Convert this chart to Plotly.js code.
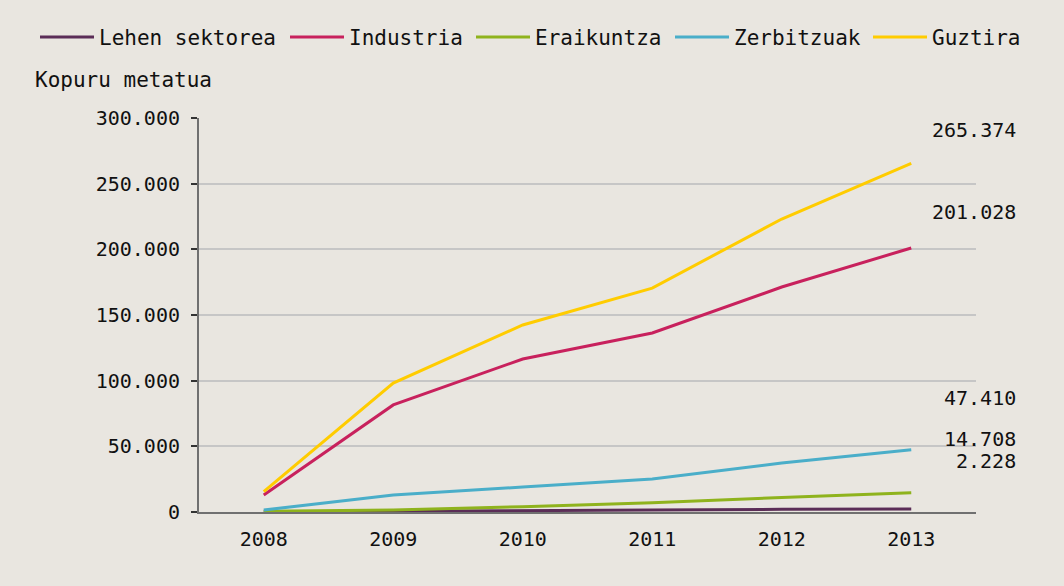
<!DOCTYPE html>
<html><head><meta charset="utf-8">
<script src="https://cdn.plot.ly/plotly-3.0.1.min.js"></script>
<style>html,body{margin:0;padding:0;background:#e9e6e0;}</style>
</head><body>
<div id="chart" style="width:1064px;height:586px;"></div>
<script>
const years = ['2008','2009','2010','2011','2012','2013'];
const lehenSektorea = [100, 400, 1000, 1500, 2000, 2228];
const industria = [13000, 81500, 116500, 136300, 171300, 201028];
const eraikuntza = [500, 1500, 4000, 7000, 11000, 14708];
const zerbitzuak = [1500, 12900, 19000, 25100, 37300, 47410];
const guztira = [15500, 98200, 142400, 170500, 223100, 265374];
const seriesNames = ['Lehen sektorea','Industria','Eraikuntza','Zerbitzuak','Guztira'];
const seriesColors = ['#5b2d57','#c8215d','#8fb31d','#4aaec9','#ffcc00'];
const seriesData = [lehenSektorea, industria, eraikuntza, zerbitzuak, guztira];
const yTitle = 'Kopuru metatua';
const labelY = [0.1294, 0.7614, 0.1853, 0.2893, 0.9695];
const legendX = [35, 285, 471, 670, 868];

const mono = '"DejaVu Sans Mono", "Liberation Mono", monospace';
const legendIds = ['legend','legend2','legend3','legend4','legend5'];
const traces = seriesData.map((d,i)=>({
  x: years, y: d, name: seriesNames[i], type:'scatter', mode:'lines',
  line:{color:seriesColors[i], width:3}, hoverinfo:'skip', legend: legendIds[i]
}));
const fmt = v => v.toLocaleString('de-DE');
const annotations = seriesData.map((d,i)=>({
  xref:'paper', yref:'paper', x:1.054, y:labelY[i], xanchor:'right', yanchor:'middle',
  text: fmt(d[d.length-1]), showarrow:false, font:{family:mono, size:20, color:'#111'}
}));
annotations.push({xref:'paper', yref:'paper', x:-0.213, y:1.0964, xanchor:'left', yanchor:'middle',
  text:yTitle, showarrow:false, font:{family:mono, size:21, color:'#111'}});

const layout = {
  width:1064, height:586,
  paper_bgcolor:'#e9e6e0', plot_bgcolor:'#e9e6e0',
  margin:{l:199, r:88, t:118, b:74},
  separators:',.',
  showlegend:true,
  xaxis:{type:'category', range:[-0.5,5.5], showgrid:false, zeroline:false,
    showline:true, linecolor:'#707070', linewidth:2, ticks:'', ticklabelstandoff:8,
    tickfont:{family:mono, size:20, color:'#111'}, fixedrange:true},
  yaxis:{range:[0,300000], dtick:50000, tickformat:',d', showgrid:true, gridcolor:'#c6c6c6', gridwidth:2,
    zeroline:false, showline:true, linecolor:'#707070', linewidth:2,
    ticks:'outside', ticklen:6, tickwidth:2, tickcolor:'#333', ticklabelstandoff:7,
    tickfont:{family:mono, size:20, color:'#111'}, fixedrange:true},
  annotations: annotations
};
legendIds.forEach((id,i)=>{
  layout[id] = {orientation:'h', x:(legendX[i]-199)/777, xanchor:'left', y:1.205, yanchor:'middle',
    font:{family:mono, size:21, color:'#111'}, itemwidth:54, bgcolor:'rgba(0,0,0,0)'};
});
Plotly.newPlot('chart', traces, layout, {displayModeBar:false, staticPlot:true});
</script>
</body></html>
